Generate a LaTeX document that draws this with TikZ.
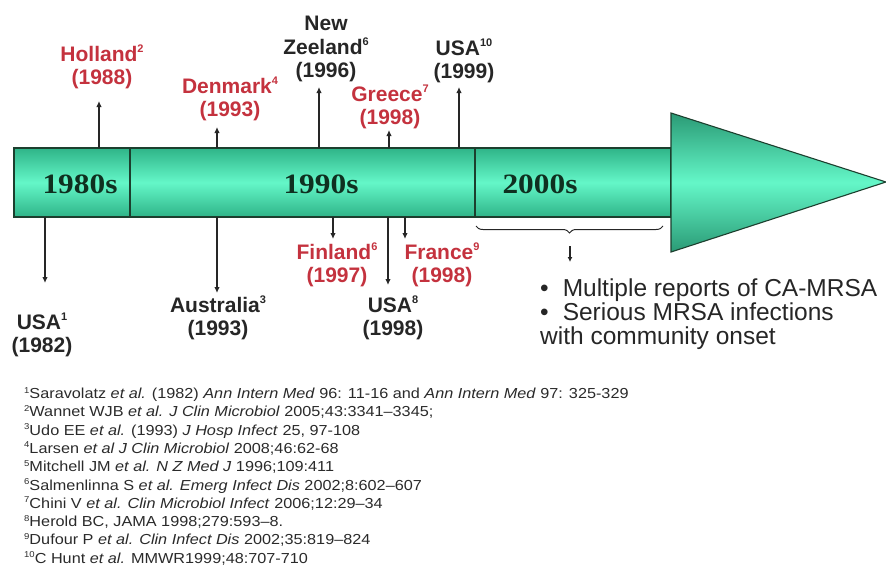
\documentclass[tikz,border=0pt]{standalone}
\usepackage{fontspec}
\setmainfont{Liberation Sans}
\newfontfamily\decfont[FakeStretch=1.12]{Liberation Serif}
\newfontfamily\reffont[FakeStretch=1.12,Ligatures=TeX]{Liberation Sans}
\usetikzlibrary{arrows.meta,decorations.pathreplacing}
\definecolor{lblred}{HTML}{C4323E}
\definecolor{lblblk}{HTML}{262626}
\definecolor{barD}{HTML}{2FB488}
\definecolor{barL}{HTML}{64F7C8}
\definecolor{headD}{HTML}{2A9A75}
\definecolor{barline}{HTML}{1C3F2E}
\definecolor{dectext}{HTML}{0F3020}
\definecolor{reftext}{HTML}{2A2A2A}
\newcommand\lsup[1]{\raisebox{0.42em}{\fontsize{11}{11}\selectfont #1}}
\newcommand\rsup[1]{\raisebox{0.38em}{\fontsize{8.5}{8.5}\selectfont #1}}
\begin{document}
\begin{tikzpicture}[x=1pt,y=-1pt,
  lblbase/.style={font=\bfseries\fontsize{21}{23.5}\selectfont, align=center, inner sep=0pt},
  redlbl/.style={lblbase, text=lblred},
  blklbl/.style={lblbase, text=lblblk},
  declbl/.style={font=\decfont\bfseries\fontsize{28}{30}\selectfont, text=dectext, inner sep=0pt},
  tick/.style={line width=1.3pt, draw=lblblk, -{Latex[length=6pt,width=5.5pt]}},
  barstyle/.style={top color=barD, bottom color=barD, middle color=barL, draw=barline, line width=1.1pt},
  headstyle/.style={top color=headD, bottom color=headD, middle color=barL, draw=barline, line width=1.1pt},
]
\useasboundingbox (0,0) rectangle (886,568);

% timeline bar
\path[barstyle] (14,148) rectangle (671,217);
\draw[barline, line width=1.1pt] (130,148) -- (130,217) (475,148) -- (475,217);
\path[headstyle] (671,113) -- (886,182) -- (671,252) -- cycle;

\node[declbl] (d80) at (80,184) {1980s};
\node[declbl] (d90) at (321,184) {1990s};
\node[declbl] (d00) at (540,184) {2000s};

% labels above
\node[redlbl] (hol) at (102,67) {Holland\lsup{2}\\(1988)};
\node[redlbl] (den) at (230,99) {Denmark\lsup{4}\\(1993)};
\node[blklbl] (nz) at (326,49) {New\\Zeeland\lsup{6}\\(1996)};
\node[redlbl] (gre) at (390,107) {Greece\lsup{7}\\(1998)};
\node[blklbl] (u10) at (464,61) {USA\lsup{10}\\(1999)};

% labels below
\node[blklbl] (u1) at (42,335) {USA\lsup{1}\\(1982)};
\node[blklbl] (aus) at (218,318) {Australia\lsup{3}\\(1993)};
\node[redlbl] (fin) at (337,265) {Finland\lsup{6}\\(1997)};
\node[redlbl] (fra) at (442,265) {France\lsup{9}\\(1998)};
\node[blklbl] (u8) at (393,318) {USA\lsup{8}\\(1998)};

% arrow end points
\coordinate (holB) at (99,148);  \coordinate (holT) at (99,101);
\coordinate (denB) at (217,148); \coordinate (denT) at (217,127);
\coordinate (nzB) at (319,148);  \coordinate (nzT) at (319,87);
\coordinate (greB) at (389,148); \coordinate (greT) at (389,130);
\coordinate (u10B) at (459,148); \coordinate (u10T) at (459,87);
\coordinate (u1B) at (45,217);   \coordinate (u1T) at (45,283);
\coordinate (ausB) at (217,217); \coordinate (ausT) at (217,293);
\coordinate (finB) at (333,217); \coordinate (finT) at (333,239);
\coordinate (u8B) at (388,217);  \coordinate (u8T) at (388,285);
\coordinate (fraB) at (405,217); \coordinate (fraT) at (405,239);

\draw[tick] (holB) -- (holT);
\draw[tick] (denB) -- (denT);
\draw[tick] (nzB) -- (nzT);
\draw[tick] (greB) -- (greT);
\draw[tick] (u10B) -- (u10T);
\draw[tick] (u1B) -- (u1T);
\draw[tick] (ausB) -- (ausT);
\draw[tick] (finB) -- (finT);
\draw[tick] (u8B) -- (u8T);
\draw[tick] (fraB) -- (fraT);

% brace under 2000s
\coordinate (brL) at (476,226);
\coordinate (brR) at (663,226);
\draw[lblblk, line width=1pt, decorate, decoration={brace, mirror, amplitude=7pt}] (brL) -- (brR);
\coordinate (brA) at (570,246);
\coordinate (brB) at (570,262);
\draw[line width=1.1pt, lblblk, -{Latex[length=5pt,width=5pt]}] (brA) -- (brB);

\node[anchor=north west, align=left, inner sep=0pt, text=lblblk,
      font=\fontsize{24.5}{24}\selectfont] (bul) at (540,279)
  {\textbullet\hspace{14pt}Multiple reports of CA-MRSA\\
   \textbullet\hspace{14pt}Serious MRSA infections\\
   with community onset};

% references
\node[anchor=north west, align=left, inner sep=0pt, text=reftext,
      font=\reffont\fontsize{14.5}{18.3}\selectfont] (refs) at (24,387)
  {\rsup{1}Saravolatz \textit{et al.} (1982) \textit{Ann Intern Med} 96: 11-16 and \textit{Ann Intern Med} 97: 325-329\\
   \rsup{2}Wannet WJB \textit{et al. J Clin Microbiol} 2005;43:3341–3345;\\
   \rsup{3}Udo EE \textit{et al.} (1993) \textit{J Hosp Infect} 25, 97-108\\
   \rsup{4}Larsen \textit{et al J Clin Microbiol} 2008;46:62-68\\
   \rsup{5}Mitchell JM \textit{et al. N Z Med J} 1996;109:411\\
   \rsup{6}Salmenlinna S \textit{et al. Emerg Infect Dis} 2002;8:602–607\\
   \rsup{7}Chini V \textit{et al. Clin Microbiol Infect} 2006;12:29–34\\
   \rsup{8}Herold BC, JAMA 1998;279:593–8.\\
   \rsup{9}Dufour P \textit{et al. Clin Infect Dis} 2002;35:819–824\\
   \rsup{10}C Hunt \textit{et al.} MMWR1999;48:707-710};
\end{tikzpicture}
\end{document}
